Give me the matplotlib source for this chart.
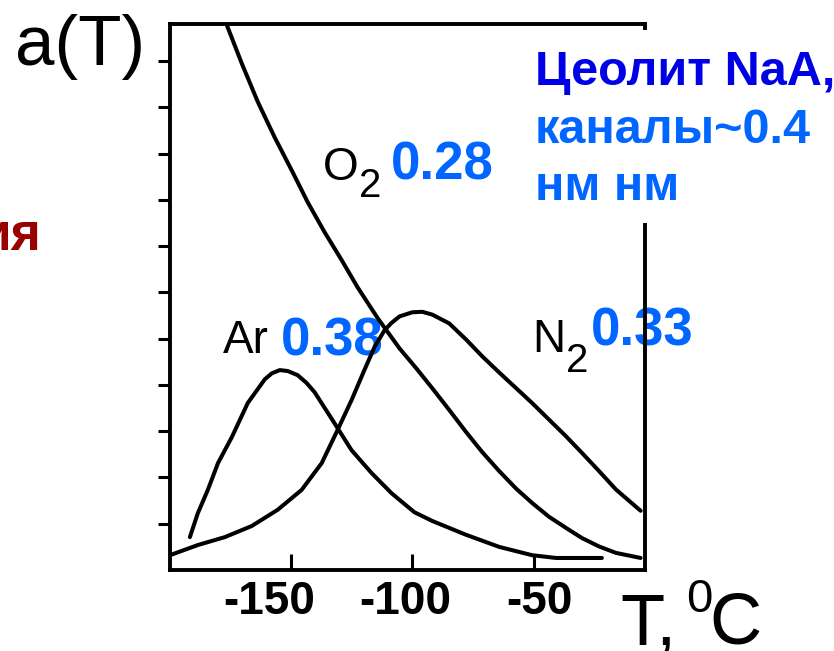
import matplotlib
matplotlib.use("Agg")
import matplotlib.pyplot as plt
from matplotlib import font_manager
from matplotlib.patches import Rectangle
from matplotlib.transforms import ScaledTranslation

# Adsorption a(T) on zeolite NaA
o2_t = [-176.5, -170.4, -163.8, -156.8, -149.8, -143.2, -136.2, -129.2, -122.6, -114.4,
        -105.3, -98.4, -91.8, -84.8, -77.8, -71.2, -64.2, -57.2, -50.6, -43.6,
        -36.6, -30.0, -23.0, -16.0, -5.8]
o2_a = [11.77, 10.95, 10.12, 9.35, 8.64, 7.95, 7.30, 6.70, 6.11, 5.45,
        4.79, 4.36, 3.93, 3.46, 2.98, 2.55, 2.14, 1.76, 1.45, 1.15,
        0.91, 0.69, 0.51, 0.37, 0.26]

n2_t = [-200.0, -188.5, -177.4, -166.3, -155.6, -145.7, -137.4, -130.9, -125.1, -119.8,
        -115.6, -111.5, -108.6, -105.3, -100.0, -95.9, -91.8, -84.8, -77.8, -71.2,
        -64.2, -57.2, -50.6, -43.6, -36.6, -30.0, -23.0, -16.0, -5.8]
n2_a = [0.32, 0.54, 0.71, 0.95, 1.30, 1.73, 2.31, 3.02, 3.67, 4.32,
        4.82, 5.18, 5.34, 5.48, 5.57, 5.58, 5.52, 5.33, 4.98, 4.62,
        4.27, 3.93, 3.61, 3.25, 2.89, 2.53, 2.14, 1.74, 1.28]

ar_t = [-191.8, -188.5, -184.4, -180.2, -174.5, -167.9, -160.9, -158.0, -154.7, -151.4,
        -147.3, -143.6, -140.3, -132.1, -125.1, -116.9, -108.6, -99.2, -91.8, -77.8,
        -64.2, -50.6, -40.7, -21.8]
ar_a = [0.71, 1.23, 1.73, 2.31, 2.87, 3.61, 4.12, 4.25, 4.32, 4.30,
        4.21, 4.04, 3.84, 3.17, 2.59, 2.10, 1.66, 1.25, 1.06, 0.76,
        0.50, 0.32, 0.26, 0.26]

x_ticks = [-150, -100, -50]
x_tick_labels = ["-150", "-100", "-50"]
y_ticks = [1, 2, 3, 4, 5, 6, 7, 8, 9, 10, 11]

W, H = 834, 651
BLUE = "#0066ff"
DARK_BLUE = "#0000e6"

names = {f.name for f in font_manager.fontManager.ttflist}
if "Liberation Sans Narrow" in names:
    tick_font, tick_size = "Liberation Sans Narrow", 37
else:
    tick_font, tick_size = "Liberation Sans", 33

plt.rcParams["font.family"] = ["Liberation Sans", "DejaVu Sans"]

fig = plt.figure(figsize=(W / 100, H / 100), dpi=100)
ax = fig.add_axes([170 / W, (H - 570) / H, 475 / W, 546 / H])


def fx(px, py):
    return px / W, (H - py) / H


for t, a in [(o2_t, o2_a), (n2_t, n2_a), (ar_t, ar_a)]:
    ax.plot(t, a, color="black", lw=2.9, solid_joinstyle="round", solid_capstyle="round", zorder=2)

ax.set_xlim(-200, -4)
ax.set_ylim(0, 11.8)
for s in ax.spines.values():
    s.set_linewidth(2.8)

ax.set_yticks(y_ticks)
ax.set_yticklabels([])
ax.tick_params(axis="y", direction="out", length=8.6, width=2.2)
ax.set_xticks(x_ticks)
ax.set_xticklabels(x_tick_labels, fontfamily=tick_font, fontweight="bold", fontsize=tick_size)
ax.tick_params(axis="x", direction="in", length=11.5, width=2.2, pad=7)
for lab, dx in zip(ax.get_xticklabels(), [-22, -7, 6]):
    lab.set_transform(lab.get_transform() + ScaledTranslation(dx / 100, 0, fig.dpi_scale_trans))


# labels next to the curves (under the lines)
def atext(px, py, s, size, **kw):
    ax.text(*fx(px, py), s, transform=fig.transFigure, fontsize=size, va="baseline",
            clip_on=False, zorder=1.5, **kw)


atext(323, 180, "O", 33)
atext(359, 197, "2", 29)
atext(391, 180, "0.28", 38, fontweight="bold", color=BLUE)
atext(223, 353, "Ar", 33)
atext(281, 355, "0.38", 38, fontweight="bold", color=BLUE)
atext(532, 352, "N", 33)
atext(566, 372, "2", 29)
atext(591, 345, "0.33", 38, fontweight="bold", color=BLUE)

# white box behind the zeolite note
fig.patches.append(Rectangle(fx(530, 223), 304 / W, 193 / H, transform=fig.transFigure,
                             facecolor="white", edgecolor="none", zorder=1))

fig.text(*fx(535, 85), "Цеолит NaA,", fontsize=35, fontweight="bold", color=DARK_BLUE, va="baseline")
fig.text(*fx(535, 143), "каналы~0.4", fontsize=35, fontweight="bold", color=BLUE, va="baseline")
fig.text(*fx(535, 200), "нм нм", fontsize=35, fontweight="bold", color=BLUE, va="baseline")

fig.text(*fx(41, 250), "ия", fontsize=37, fontweight="bold", color="#990000", va="baseline", ha="right")

fig.text(*fx(15, 65), "a(T)", fontsize=51, va="baseline")
fig.text(*fx(620, 644), "T,", fontsize=52, va="baseline")
fig.text(*fx(686, 612), "0", fontsize=34, va="baseline")
fig.text(*fx(709, 644), "C", fontsize=52, va="baseline")

fig.savefig("out.png", dpi=100)
